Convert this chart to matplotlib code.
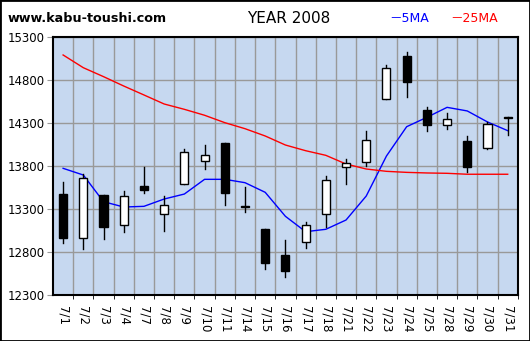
import numpy as np
import matplotlib.pyplot as plt
from matplotlib.patches import Rectangle

dates = ['7/1', '7/2', '7/3', '7/4', '7/7', '7/8', '7/9', '7/10', '7/11', '7/14',
         '7/15', '7/16', '7/17', '7/18', '7/21', '7/22', '7/23', '7/24', '7/25',
         '7/28', '7/29', '7/30', '7/31']
opens = [13474, 12959, 13459, 13110, 13564, 13238, 13587, 13855, 14067, 13338,
         13067, 12765, 12913, 13238, 13785, 13843, 14575, 15079, 14451,
         14273, 14091, 14013, 14368]
highs = [13614, 13707, 13465, 13509, 13788, 13451, 13998, 14044, 14067, 13552,
         13067, 12940, 13149, 13684, 13881, 14207, 14974, 15126, 14486,
         14413, 14149, 14315, 14368]
lows = [12908, 12831, 12948, 13036, 13482, 13048, 13587, 13769, 13350, 13269,
        12606, 12513, 12850, 13094, 13587, 13800, 14575, 14606, 14211,
        14227, 13734, 14000, 14164]
closes = [12966, 13657, 13094, 13448, 13525, 13343, 13959, 13924, 13482, 13320,
          12676, 12583, 13110, 13634, 13839, 14099, 14936, 14781, 14281,
          14343, 13792, 14288, 14356]
ma5 = [13773, 13695, 13385, 13323, 13331, 13416, 13474, 13645, 13645, 13606,
       13494, 13215, 13036, 13064, 13172, 13451, 13916, 14257, 14366,
       14482, 14440, 14312, 14211]
ma25 = [15091, 14943, 14839, 14730, 14626, 14521, 14459, 14390, 14304, 14234,
        14149, 14044, 13978, 13924, 13823, 13765, 13738, 13726, 13719,
        13715, 13704, 13704, 13704]
yticks = [12300, 12800, 13300, 13800, 14300, 14800, 15300]

fig = plt.figure(figsize=(5.3, 3.41), dpi=100)
ax = fig.add_axes([0.1, 0.1349, 0.877, 0.7566])
ax.set_facecolor('#c6d8f0')

x = np.arange(len(dates))

# grid between the days
ax.set_xticks(x + 0.5, minor=True)
ax.grid(True, which='minor', axis='x', color='#999999', lw=1, zorder=0)
ax.grid(True, which='major', axis='y', color='#999999', lw=1, zorder=0)

ax.plot(x, ma5, color='blue', lw=1, zorder=2)
ax.plot(x, ma25, color='red', lw=1, zorder=2)

w = 0.4
for i in range(len(dates)):
    o, h, l, c = opens[i], highs[i], lows[i], closes[i]
    ax.plot([i, i], [l, h], color='black', lw=1, zorder=3)
    fc = 'white' if c > o else 'black'
    lo = min(o, c)
    ht = max(abs(c - o), 12)
    ax.add_patch(Rectangle((i - w / 2, lo), w, ht, facecolor=fc,
                           edgecolor='black', lw=1, zorder=4))

ax.set_xlim(-0.5, len(dates) - 0.5)
ax.set_ylim(12300, 15300)
ax.set_yticks(yticks)
ax.set_yticklabels([str(v) for v in yticks], fontsize=8.5)
ax.set_xticks(x)
ax.set_xticklabels(dates, rotation=270, fontsize=8.5, va='top')
ax.tick_params(axis='x', which='major', length=0, pad=8)
ax.tick_params(axis='x', which='minor', length=3, color='black')
ax.tick_params(axis='y', length=4, color='#999999', pad=2)
for s in ax.spines.values():
    s.set_linewidth(1.5)

fams = ['DejaVu Sans', 'Noto Sans CJK JP']
fig.text(0.015, 0.945, 'www.kabu-toushi.com', fontsize=9.2, fontweight='bold', va='center')
fig.text(0.545, 0.945, 'YEAR 2008', fontsize=11, ha='center', va='center')
fig.text(0.735, 0.945, '－5MA', fontsize=9, color='blue', va='center', family=fams)
fig.text(0.85, 0.945, '－25MA', fontsize=9, color='red', va='center', family=fams)

fig.patches.append(Rectangle((0, 0), 1, 1, transform=fig.transFigure, fill=False,
                             edgecolor='black', lw=2))

fig.savefig('out.png', dpi=100)
